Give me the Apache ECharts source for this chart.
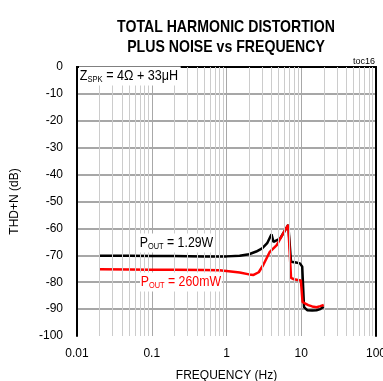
<!DOCTYPE html>
<html>
<head>
<meta charset="utf-8">
<script src="https://cdn.jsdelivr.net/npm/echarts@6/dist/echarts.min.js"></script>
<style>html,body{margin:0;padding:0;background:#fff}#c{width:383px;height:381px}</style>
</head>
<body>
<div id="c"></div>
<script>
// ---- data ----
var xTicks = [0.01, 0.1, 1, 10, 100];
var yTicks = [0, -10, -20, -30, -40, -50, -60, -70, -80, -90, -100];
var minorGrid = [0.02,0.03,0.04,0.05,0.06,0.07,0.08,0.09,
                 0.2,0.3,0.4,0.5,0.6,0.7,0.8,0.9,
                 2,3,4,5,6,7,8,9,
                 20,30,40,50,60,70,80,90];
var blackFreq = [0.02, 0.05, 0.1, 0.2, 0.5, 1, 1.5, 2, 2.5, 3, 3.5, 4.0, 4.25, 5.2, 5.75, 6.7, 7.3, 8.5, 9.6, 10.3, 10.9, 12.0, 14, 16, 18, 20];
var blackThd  = [-70.2, -70.2, -70.3, -70.3, -70.4, -70.4, -70.2, -69.6, -68.6, -67.4, -65.5, -62.2, -65.0, -63.8, -61.8, -58.7, -72.4, -72.7, -73.0, -74.2, -89.3, -90.4, -90.5, -90.4, -90.0, -89.1];
var redFreq = [0.02, 0.05, 0.1, 0.2, 0.5, 0.8, 1, 1.5, 2, 2.3, 2.7, 3.1, 3.8, 4.7, 5.75, 6.7, 7.3, 8.0, 9.0, 9.9, 10.4, 11.2, 12.4, 14, 16, 18, 20];
var redThd  = [-75.2, -75.3, -75.4, -75.4, -75.5, -75.6, -75.8, -76.4, -77.1, -77.3, -76.3, -73.6, -68.7, -66.2, -61.8, -58.7, -78.4, -78.9, -79.2, -79.4, -87.3, -87.9, -88.5, -89.0, -89.3, -88.9, -88.5];

function pairs(xs, ys){ return xs.map(function(x,i){ return [x, ys[i]]; }); }

var chart = echarts.init(document.getElementById('c'), null, {renderer:'canvas'});
var font = 'Liberation Sans, Arial, sans-serif';
var subRich = {
  s: {fontSize: 9, fontFamily: font, verticalAlign: 'bottom', lineHeight: 17}
};
chart.setOption({
  animation: false,
  backgroundColor: '#fff',
  textStyle: {fontFamily: font},
  grid: {left: 77, right: 7, top: 67, bottom: 45, outerBoundsMode: 'none', containLabel: false},
  xAxis: [{
    type: 'log', logBase: 10, min: xTicks[0], max: xTicks[xTicks.length-1],
    name: 'FREQUENCY (Hz)', nameLocation: 'middle', nameGap: 34,
    nameTextStyle: {fontSize: 12, color: '#000', fontFamily: font},
    axisLine: {lineStyle: {color: '#000', width: 2}},
    axisTick: {show: false},
    axisLabel: {fontSize: 12, color: '#000', margin: 12, fontFamily: font, hideOverlap: false,
      formatter: function(v){ return String(+v.toPrecision(3)); }},
    splitLine: {show: true, showMinLine: false, showMaxLine: false, lineStyle: {color: '#a8a8a8', width: 1}}
  },{
    type: 'log', logBase: 10, min: xTicks[0], max: xTicks[xTicks.length-1], position: 'top',
    axisLine: {lineStyle: {color: '#000', width: 2}},
    axisTick: {show: false}, axisLabel: {show: false}, splitLine: {show: false}
  }],
  yAxis: [{
    type: 'value', min: yTicks[yTicks.length-1], max: yTicks[0], interval: 10,
    name: 'THD+N (dB)', nameLocation: 'middle', nameGap: 56, nameRotate: 90,
    nameTextStyle: {fontSize: 12, color: '#000', fontFamily: font},
    axisLine: {show: true, lineStyle: {color: '#000', width: 2}},
    axisTick: {show: false},
    axisLabel: {fontSize: 12, color: '#000', margin: 14, fontFamily: font},
    splitLine: {show: true, showMinLine: false, showMaxLine: false, lineStyle: {color: '#8a8a8a', width: 1.5}}
  },{
    type: 'value', min: yTicks[yTicks.length-1], max: yTicks[0], interval: 10, position: 'right',
    axisLine: {show: true, lineStyle: {color: '#000', width: 2}},
    axisTick: {show: false}, axisLabel: {show: false}, splitLine: {show: false}
  }],
  series: [{
    type: 'line', data: [], z: 1, silent: true,
    markLine: {
      silent: true, symbol: 'none', animation: false,
      label: {show: false},
      lineStyle: {color: '#cccccc', width: 1, type: 'solid'},
      data: minorGrid.map(function(v){ return {xAxis: v}; })
    }
  },{
    name: 'P_OUT = 260mW', type: 'line', data: pairs(redFreq, redThd), z: 3,
    showSymbol: false, symbol: 'none',
    lineStyle: {color: '#ff0000', width: 2.5}
  },{
    name: 'P_OUT = 1.29W', type: 'line', data: pairs(blackFreq, blackThd), z: 2,
    showSymbol: false, symbol: 'none',
    lineStyle: {color: '#000000', width: 2.5}
  }],
  graphic: [
    {type: 'text', x: 226, y: 27, z: 10, scaleX: 0.83, style: {text: 'TOTAL HARMONIC DISTORTION', font: 'bold 17px ' + font, fill: '#000', textAlign: 'center', textVerticalAlign: 'middle'}},
    {type: 'text', x: 226, y: 47, z: 10, scaleX: 0.83, style: {text: 'PLUS NOISE vs FREQUENCY', font: 'bold 17px ' + font, fill: '#000', textAlign: 'center', textVerticalAlign: 'middle'}},
    {type: 'text', x: 375, y: 62, z: 10, style: {text: 'toc16', font: '9px ' + font, fill: '#000', textAlign: 'right', textVerticalAlign: 'middle'}},
    {type: 'text', x: 79, y: 76, z: 10, scaleX: 0.84, style: {text: 'Z{s|SPK} = 4Ω + 33μH', font: '15px ' + font, fill: '#000', textAlign: 'left', textVerticalAlign: 'middle', backgroundColor: '#fff', padding: [1, 3, 1, 1], rich: subRich}},
    {type: 'text', x: 139, y: 243, z: 10, scaleX: 0.82, style: {text: 'P{s|OUT} = 1.29W', font: '15px ' + font, fill: '#000', textAlign: 'left', textVerticalAlign: 'middle', backgroundColor: '#fff', padding: [1, 1, 1, 1], rich: subRich}},
    {type: 'text', x: 140, y: 282, z: 10, scaleX: 0.82, style: {text: 'P{s|OUT} = 260mW', font: '15px ' + font, fill: '#ff0000', textAlign: 'left', textVerticalAlign: 'middle', backgroundColor: '#fff', padding: [1, 1, 1, 1], rich: subRich}}
  ]
});
</script>
</body>
</html>
